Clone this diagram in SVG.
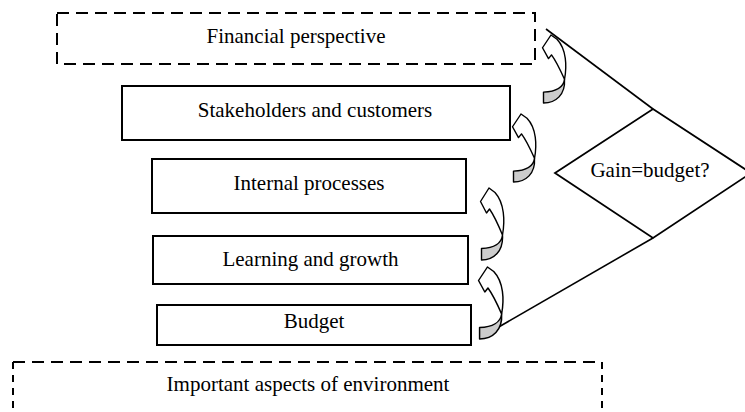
<svg xmlns="http://www.w3.org/2000/svg" xmlns:xlink="http://www.w3.org/1999/xlink" width="745" height="412" viewBox="0 0 745 412">
<style>
  .box { fill: #ffffff; stroke: #000000; stroke-width: 2; }
  .dash { fill: none; stroke: #000000; stroke-width: 2; stroke-dasharray: 12 7; }
  .lbl { font-family: "Liberation Serif", "Times New Roman", serif; font-size: 21px; fill: #000000; text-anchor: middle; }
  .line { fill: none; stroke: #000000; stroke-width: 1.6; }
  .aw { fill: #ffffff; stroke: #000000; stroke-width: 1.4; stroke-linejoin: round; }
  .ag { fill: #cccccc; stroke: #000000; stroke-width: 1.4; stroke-linejoin: round; }
</style>
<defs>
  <g id="curvArrow">
    <path class="aw" d="M 15,4.5 L 9,0 L 0.5,13.5 L 6.5,25 L 9.5,21 C 13,26 17.5,35 22.5,47 C 25,33 24.5,15 15,4.5 Z"/>
    <path class="ag" d="M 22.5,47 C 21.5,55 14,60 1.5,60.5 L 1.5,72 C 14,72 23.5,63 22.5,47 Z"/>
  </g>
</defs>
<rect width="745" height="412" fill="#ffffff"/>

<g id="financial">
  <rect class="dash" x="57" y="13" width="478" height="51"/>
  <text class="lbl" x="296" y="43">Financial perspective</text>
</g>
<g id="stakeholders">
  <rect class="box" x="122" y="86" width="388" height="54"/>
  <text class="lbl" x="315" y="117">Stakeholders and customers</text>
</g>
<g id="internal">
  <rect class="box" x="152" y="159" width="314" height="54"/>
  <text class="lbl" x="309" y="190">Internal processes</text>
</g>
<g id="learning">
  <rect class="box" x="153" y="236" width="315" height="48"/>
  <text class="lbl" x="310.5" y="266">Learning and growth</text>
</g>
<g id="budget">
  <rect class="box" x="157" y="305" width="314" height="40"/>
  <text class="lbl" x="314" y="328">Budget</text>
</g>
<g id="environment">
  <line class="dash" x1="13" y1="362" x2="602" y2="362"/>
  <line class="dash" x1="13" y1="362" x2="13" y2="430" style="stroke-dasharray:7 6"/>
  <line class="dash" x1="602" y1="362" x2="602" y2="430" style="stroke-dasharray:7 6"/>
  <text class="lbl" x="308" y="391">Important aspects of environment</text>
</g>
<g id="decision">
  <polygon class="box" points="653,109 751,173 653,238 555,173" style="stroke-width:1.8"/>
  <text class="lbl" x="650" y="177">Gain=budget?</text>
</g>

<g id="connectors">
  <line class="line" x1="546" y1="29" x2="653" y2="109"/>
  <line class="line" x1="490" y1="332" x2="653" y2="238"/>
  <use xlink:href="#curvArrow" transform="translate(542,35) scale(1,0.944)"/>
  <use xlink:href="#curvArrow" transform="translate(512,114) scale(1,0.944)"/>
  <use xlink:href="#curvArrow" transform="translate(480,188)"/>
  <use xlink:href="#curvArrow" transform="translate(478,267) scale(1.05,1)"/>
</g>
</svg>
